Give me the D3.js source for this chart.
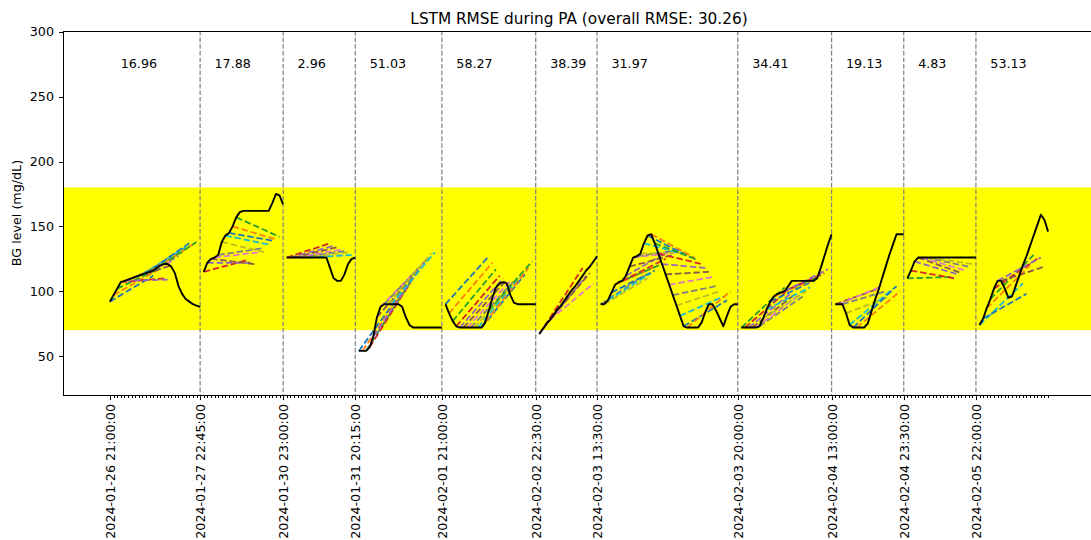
<!DOCTYPE html>
<html><head><meta charset="utf-8">
<script src="https://cdn.jsdelivr.net/npm/d3@7"></script>
<style>body{margin:0;background:#fff} svg{font-family:"DejaVu Sans",sans-serif}</style>
</head><body><svg id="c" width="1091" height="540"></svg>
<script>
// ---------- data ----------
const tickLabels = ["2024-01-26 21:00:00","2024-01-27 22:45:00","2024-01-30 23:00:00","2024-01-31 20:15:00",
  "2024-02-01 21:00:00","2024-02-02 22:30:00","2024-02-03 13:30:00","2024-02-03 20:00:00",
  "2024-02-04 13:00:00","2024-02-04 23:30:00","2024-02-05 22:00:00"];
const rmseValues = [16.96, 17.88, 2.96, 51.03, 58.27, 38.39, 31.97, 34.41, 19.13, 4.83, 53.13];
const overallRMSE = 30.26;
const yTicks = [50, 100, 150, 200, 250, 300];
const targetRange = [70, 180];
const horizon = 12;
const rmseLabelY = 272;

// actual BG per PA segment (5-min samples)
const actualBG = [
  [92,97,102,107,108,109,110,111,112,113,114,115,116,118,120,121,121,119,114,104,98,94,92,90,89,88],
  [115,122,125,126,128,138,143,145,150,157,161,162,162,162,162,162,162,162,162,168,175,174,167],
  [126,126,126,126,126,126,126,126,126,126,126,126,118,110,108,108,113,121,125,126],
  [54,54,54,57,65,80,88,90,90,90,90,90,88,80,74,72,72,72,72,72,72,72,72,72],
  [90,83,77,73,72,72,72,72,72,72,72,76,85,95,103,106,107,106,97,91,90,90,90,90,90,90],
  [67,71,75,78,82,86,89,93,97,101,104,108,112,116,119,123,127],
  [90,90,93,99,105,107,108,112,119,126,127,129,137,143,144,137,129,121,113,105,97,89,81,73,72,72,72,72,76,84,90,90,85,79,73,81,88,90,90],
  [72,72,72,72,72,73,79,86,92,96,98,99,100,104,108,108,108,108,108,108,108,110,118,127,136,144],
  [90,90,90,83,74,72,72,72,72,75,84,93,101,110,119,128,136,144,144,144],
  [110,116,123,126,126,126,126,126,126,126,126,126,126,126,126,126,126,126,126,126],
  [74,79,87,94,102,108,108,102,95,96,104,112,120,127,135,143,151,159,155,146]
];
// predicted BG 60 min (12 steps) ahead, one prediction per starting sample
const predEnds = [
  [112,116,118,110,109,120,124,127,130,134,137,136,138],
  [124,122,121,130,133,130,136,139,140,142],
  [137,135,134,132,131,130,128],
  [100,103,106,110,114,118,122,125,129,130],
  [127,122,117,112,110,109,108,108,110,112,113,118,123],
  [118,112,114,106],
  [112,110,114,116,120,121,125,131,128,130,132,130,128,126,126,124,121,118,115,111,104,100,96,93,100],
  [103,101,99,98,97,96,100,103,108,110,112,114,117],
  [102,104,100,96,102,104,100],
  [111,110,113,114,116,119,121],
  [106,98,120,128,125,126,119]
];

// ---------- layout ----------
const m = {left: 63, right: 1095, top: 31, bottom: 395};
const fs = 12.7;
const starts = [];
let n = 0;
actualBG.forEach(s => { starts.push(n); n += s.length; });
const lastIdx = n - 1;
const pad = lastIdx * 0.05;
const majors = [0].concat(starts.slice(1).map(s => s - 1));

const x = d3.scaleLinear().domain([-pad, lastIdx + pad]).range([m.left, m.right]);
const y = d3.scaleLinear().domain([20, 300.7]).range([m.bottom, m.top]);
const color = d3.schemeCategory10;

const svg = d3.select("#c");
svg.append("defs").append("clipPath").attr("id", "clip").append("rect")
  .attr("x", m.left).attr("y", m.top).attr("width", m.right - m.left).attr("height", m.bottom - m.top);
const plot = svg.append("g").attr("clip-path", "url(#clip)");

// target band
plot.append("rect").attr("x", m.left).attr("width", m.right - m.left)
  .attr("y", y(targetRange[1])).attr("height", y(targetRange[0]) - y(targetRange[1]))
  .attr("fill", "#ffff00");

// segment boundaries
plot.selectAll("line.bnd").data(majors.slice(1)).join("line").attr("class", "bnd")
  .attr("x1", d => x(d)).attr("x2", d => x(d)).attr("y1", m.top).attr("y2", m.bottom)
  .attr("stroke", "#808080").attr("stroke-width", 1.2).attr("stroke-dasharray", "4.6,2");

// predictions
let ci = 0;
predEnds.forEach((arr, s) => {
  arr.forEach((v, j) => {
    const i0 = starts[s] + j;
    plot.append("line")
      .attr("x1", x(i0)).attr("y1", y(actualBG[s][j]))
      .attr("x2", x(i0 + horizon)).attr("y2", y(v))
      .attr("stroke", color[ci % 10]).attr("stroke-width", 1.8)
      .attr("stroke-dasharray", "6.5,2.8");
    ci++;
  });
});

// actual
const line = d3.line().x(d => x(d[0])).y(d => y(d[1]));
actualBG.forEach((arr, s) => {
  plot.append("path").datum(arr.map((v, i) => [starts[s] + i, v]))
    .attr("d", line).attr("fill", "none").attr("stroke", "#000").attr("stroke-width", 1.9)
    .attr("stroke-linejoin", "round");
});

// rmse labels
svg.selectAll("text.rmse").data(rmseValues).join("text").attr("class", "rmse")
  .attr("x", (d, i) => x(starts[i] + 3)).attr("y", y(rmseLabelY))
  .attr("font-size", fs).text(d => d.toFixed(2));

// axes
const gMinor = svg.append("g").attr("transform", `translate(0,${m.bottom})`)
  .call(d3.axisBottom(x).tickValues(d3.range(0, lastIdx + 1)).tickSize(3).tickFormat(""));
gMinor.select(".domain").remove();
gMinor.selectAll("line").attr("stroke", "#000").attr("stroke-width", 1).attr("shape-rendering", "crispEdges");

const gx = svg.append("g").attr("transform", `translate(0,${m.bottom})`)
  .call(d3.axisBottom(x).tickValues(majors).tickSize(4.5).tickFormat((d, i) => tickLabels[i]));
gx.select(".domain").remove();
gx.selectAll("line").attr("stroke", "#000").attr("stroke-width", 1).attr("shape-rendering", "crispEdges");
gx.selectAll("text").attr("transform", "rotate(-90)").attr("text-anchor", "end")
  .attr("x", -9).attr("y", 0).attr("dy", "0.35em")
  .attr("font-size", fs).attr("font-family", "DejaVu Sans").attr("fill", "#000");

const gy = svg.append("g").attr("transform", `translate(${m.left},0)`)
  .call(d3.axisLeft(y).tickValues(yTicks).tickSize(4.5).tickPadding(4.5).tickSizeOuter(0));
gy.select(".domain").remove();
gy.selectAll("line").attr("stroke", "#000").attr("stroke-width", 1).attr("shape-rendering", "crispEdges");
gy.selectAll("text").attr("font-size", fs).attr("font-family", "DejaVu Sans").attr("fill", "#000");

// spines
svg.append("rect").attr("x", m.left).attr("y", m.top).attr("width", m.right - m.left)
  .attr("height", m.bottom - m.top).attr("fill", "none").attr("stroke", "#000").attr("stroke-width", 1)
  .attr("shape-rendering", "crispEdges");

// titles
svg.append("text").attr("x", (m.left + m.right) / 2).attr("y", 23.5).attr("text-anchor", "middle")
  .attr("font-size", 15.3).text(`LSTM RMSE during PA (overall RMSE: ${overallRMSE.toFixed(2)})`);
svg.append("text").attr("transform", `translate(21,${(m.top + m.bottom) / 2}) rotate(-90)`)
  .attr("text-anchor", "middle").attr("font-size", fs).text("BG level (mg/dL)");
</script></body></html>
